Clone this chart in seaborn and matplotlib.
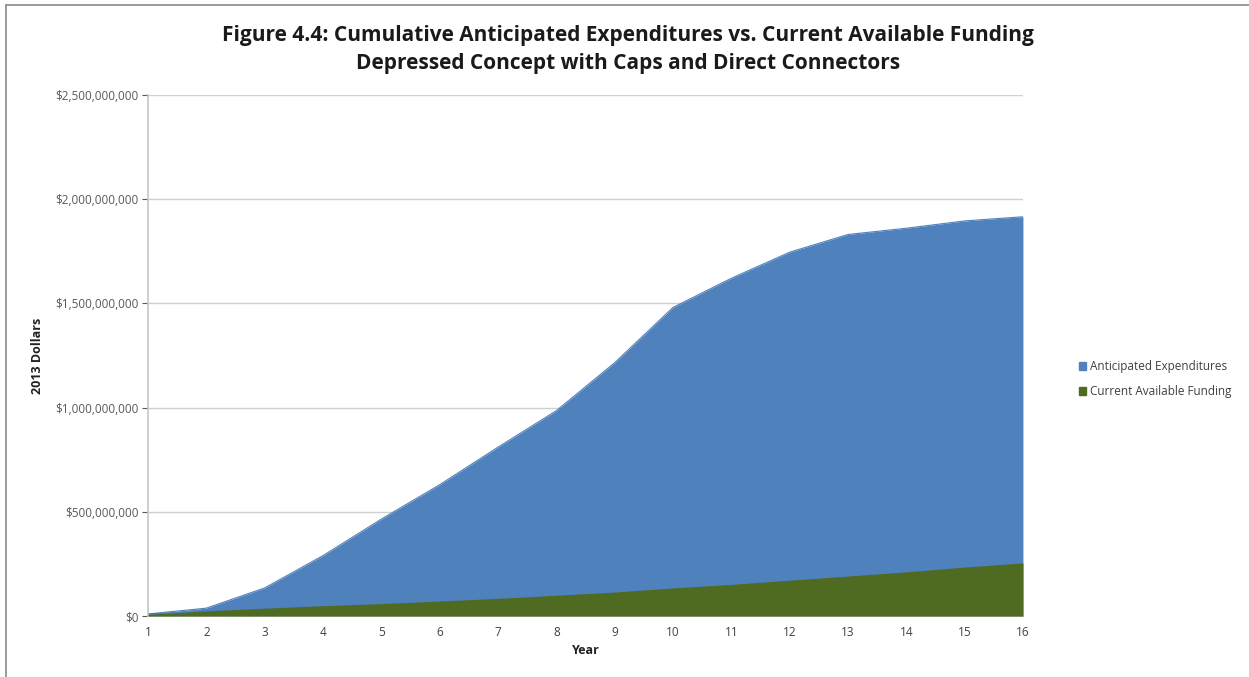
import matplotlib
matplotlib.use("Agg")
import matplotlib.pyplot as plt
import matplotlib.ticker as mticker
from matplotlib.patches import Rectangle
from matplotlib.lines import Line2D
import seaborn as sns
import pandas as pd

years = list(range(1, 17))
anticipated_expenditures = [10e6, 38e6, 135e6, 290e6, 465e6, 630e6, 810e6, 985e6,
                            1215e6, 1480e6, 1620e6, 1745e6, 1830e6, 1860e6, 1895e6, 1915e6]
current_available_funding = [8e6, 25e6, 38e6, 50e6, 60e6, 72e6, 85e6, 100e6,
                             115e6, 135e6, 152e6, 172e6, 192e6, 212e6, 235e6, 255e6]
series_names = ["Anticipated Expenditures", "Current Available Funding"]
y_ticks = [0, 500e6, 1000e6, 1500e6, 2000e6, 2500e6]

df = pd.DataFrame({"Year": years,
                   series_names[0]: anticipated_expenditures,
                   series_names[1]: current_available_funding})
long_df = df.melt(id_vars="Year", var_name="Series", value_name="Dollars")

sns.set_theme(style="white")
plt.rcParams["font.family"] = ["Open Sans", "DejaVu Sans"]

colors = {series_names[0]: "#4f81bd", series_names[1]: "#4f6b22"}

fig = plt.figure(figsize=(12.49, 6.77), dpi=100)
ax = fig.add_axes([0.1185, 0.09, 0.7005, 0.77])

sns.lineplot(data=long_df, x="Year", y="Dollars", hue="Series", palette=colors,
             linewidth=0.8, legend=False, ax=ax)
for name in series_names:
    ax.fill_between(df["Year"], 0, df[name], color=colors[name], linewidth=0,
                    zorder=2 if name == series_names[0] else 3)

ax.set_xlim(1, 16)
ax.set_ylim(0, 2500e6)
ax.set_xticks(years)
ax.set_yticks(y_ticks)
ax.yaxis.set_major_formatter(mticker.FuncFormatter(lambda v, p: f"${v:,.0f}"))
ax.tick_params(axis="both", labelsize=8.5, colors="#595959", length=4, width=0.8,
               direction="out", left=True, bottom=False, pad=3)
ax.tick_params(axis="x", labelcolor="#404040")
ax.grid(axis="y", color="#d0d0d0", linewidth=1)
ax.set_axisbelow(True)
for side in ["top", "right"]:
    ax.spines[side].set_visible(False)
ax.spines["left"].set_color("#c8c8c8")
ax.spines["bottom"].set_color("#c8c8c8")

ax.set_xlabel("Year", fontsize=9, fontweight="bold", color="#222222", labelpad=4)
ax.set_ylabel("2013 Dollars", fontsize=9, fontweight="bold", color="#222222", labelpad=8)

fig.suptitle("Figure 4.4: Cumulative Anticipated Expenditures vs. Current Available Funding\n"
             "Depressed Concept with Caps and Direct Connectors",
             x=0.503, y=0.963, fontsize=15, fontweight="bold", color="#1a1a1a", linespacing=1.45)

handles = [Rectangle((0, 0), 1, 1, color=colors[n]) for n in series_names]
fig.legend(handles, series_names, loc="center left", bbox_to_anchor=(0.855, 0.44),
           frameon=False, fontsize=8.5, handlelength=0.6, handleheight=0.6,
           handletextpad=0.4, labelspacing=1.0, labelcolor="#404040")

# chart frame: top and left edges
fig.lines.append(Line2D([0.0045, 1.0], [0.992, 0.992], transform=fig.transFigure,
                        color="#8a8a8a", linewidth=1.2))
fig.lines.append(Line2D([0.0045, 0.0045], [0.0, 0.992], transform=fig.transFigure,
                        color="#8a8a8a", linewidth=1.2))

fig.savefig("out.png", dpi=100)
